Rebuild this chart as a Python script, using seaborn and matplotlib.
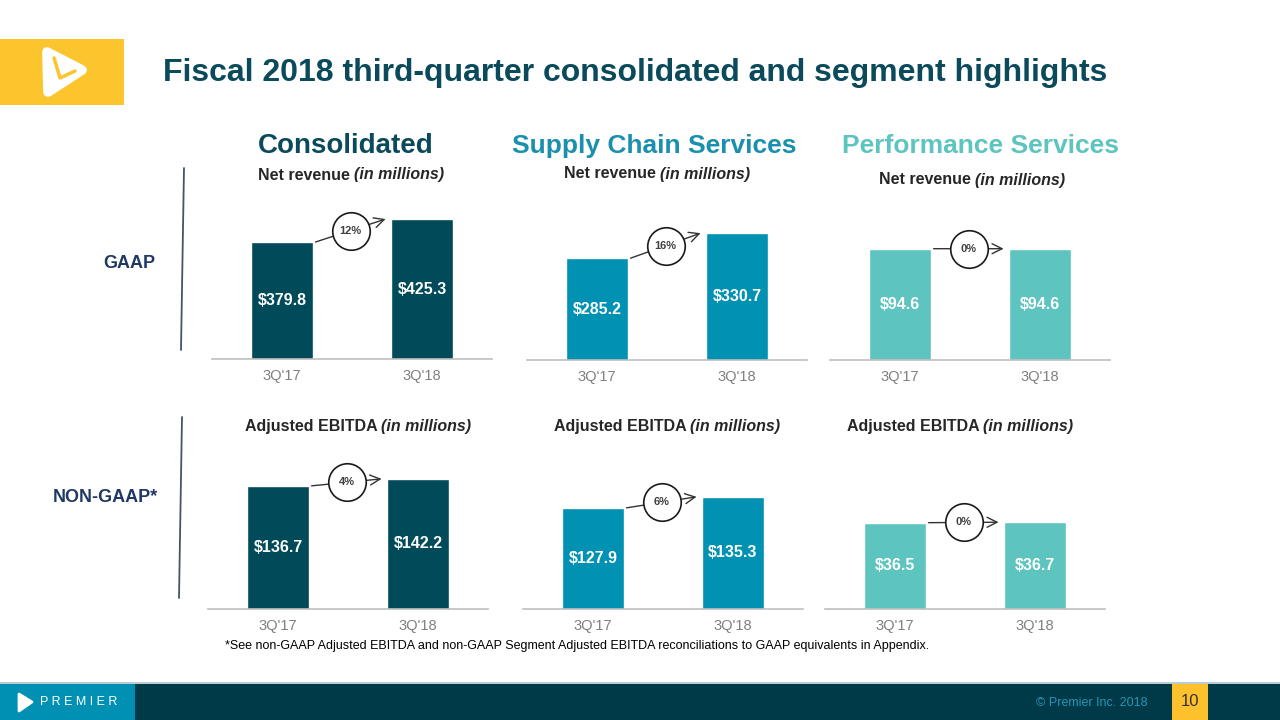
import matplotlib
matplotlib.use("Agg")
import matplotlib.pyplot as plt
from matplotlib.patches import Rectangle, Polygon
import numpy as np
import seaborn as sns

# ---- data ----
quarters = ["3Q'17", "3Q'18"]
segments = ["Consolidated", "Supply Chain Services", "Performance Services"]
net_revenue = [[379.8, 425.3], [285.2, 330.7], [94.6, 94.6]]
adj_ebitda = [[136.7, 142.2], [127.9, 135.3], [36.5, 36.7]]
revenue_growth = ["12%", "16%", "0%"]
ebitda_growth = ["4%", "6%", "0%"]

# ---- style ----
seg_colors = ["#004a59", "#0091b3", "#5ec4bf"]
head_colors = ["#0b4a5a", "#1a8fae", "#5ec4bf"]
navy = "#1f3864"
W, H = 1280, 720

sns.set_style("white")
plt.rcParams['font.family'] = ['Liberation Sans', 'DejaVu Sans']

fig = plt.figure(figsize=(12.8, 7.2), dpi=100)
fig.patch.set_facecolor("white")


def fx(x):
    return x / W


def fy(y):
    return 1 - y / H


def rect(x0, y0, x1, y1, color):
    fig.add_artist(Rectangle((fx(x0), fy(y1)), fx(x1) - fx(x0), fy(y0) - fy(y1),
                             transform=fig.transFigure, facecolor=color, edgecolor="none"))


renderer = fig.canvas.get_renderer()


def mixed_label(xc, y, bold_part, ital_part, size=11.5):
    t1 = fig.text(0, fy(y), bold_part, fontsize=size, fontweight="bold", va="center", ha="left")
    t2 = fig.text(0, fy(y), ital_part, fontsize=size, fontweight="bold", style="italic",
                  va="center", ha="left")
    w1 = t1.get_window_extent(renderer).width
    w2 = t2.get_window_extent(renderer).width
    x0 = xc - (w1 + w2) / 2
    t1.set_x(fx(x0))
    t2.set_x(fx(x0 + w1))


# panel geometry: middle tick x, baseline y, top y, y-limits
panel_mid = [[352, 667, 970], [348, 663, 965]]
panel_base = [[359, 360, 360], [609, 609, 609]]
panel_top = [200, 460]
panel_ylim = [[(148, 463), (100, 391), (0, 136)], [(40, 157), (60, 160), (0, 63)]]
bar_w = 0.44

rows = [net_revenue, adj_ebitda]
growth = [revenue_growth, ebitda_growth]

for r in range(2):
    for c in range(3):
        mid = panel_mid[r][c]
        base = panel_base[r][c]
        ax = fig.add_axes([fx(mid - 140), fy(base), 280 / W, (base - panel_top[r]) / H])
        vals = rows[r][c]
        sns.barplot(x=quarters, y=vals, color=seg_colors[c], width=bar_w,
                    saturation=1, ax=ax)
        lo, hi = panel_ylim[r][c]
        ax.set_ylim(lo, hi)
        ax.set_xlim(-0.5, 1.5)
        for s in ["top", "left", "right"]:
            ax.spines[s].set_visible(False)
        ax.spines["bottom"].set_color("#bfbfbf")
        ax.spines["bottom"].set_linewidth(1.2)
        ax.set_yticks([])
        ax.set_xlabel("")
        ax.set_ylabel("")
        ax.tick_params(axis="x", which="major", length=0, pad=7,
                       labelsize=10.5, labelcolor="#7f7f7f")
        ax.set_xticks([-0.5, 0.5, 1.5], minor=True)
        ax.tick_params(axis="x", which="minor", length=4, color="#bfbfbf", width=1)
        ax.patch.set_alpha(0)

        for i, v in enumerate(vals):
            ax.text(i, (lo + v) / 2, f"${v:.1f}", ha="center", va="center",
                    color="white", fontsize=11.5, fontweight="bold")

        # growth arrow with circled percentage
        x0, x1 = bar_w / 2 + 0.02, 1 - bar_w / 2 - 0.04
        y0, y1 = vals[0], vals[1]
        ax.annotate("", xy=(x1, y1), xytext=(x0, y0),
                    arrowprops=dict(arrowstyle="->", color="#333333", lw=1,
                                    shrinkA=0, shrinkB=0, mutation_scale=18),
                    annotation_clip=False)
        ax.plot([(x0 + x1) / 2], [(y0 + y1) / 2], marker="o", ms=27, mfc="white",
                mec="#1a1a1a", mew=1.2, clip_on=False, zorder=5)
        ax.text((x0 + x1) / 2, (y0 + y1) / 2, growth[r][c], ha="center", va="center",
                fontsize=8, fontweight="bold", color="#404040", zorder=6)

# ---- header ----
fig.text(fx(163), fy(73), "Fiscal 2018 third-quarter consolidated and segment highlights",
         fontsize=23, fontweight="bold", color="#0b4a5a", va="center", ha="left")

head_x = [346, 654, 980]
head_size = [20, 19, 19]
for c in range(3):
    fig.text(fx(head_x[c]), fy(146), segments[c], fontsize=head_size[c], fontweight="bold",
             color=head_colors[c], ha="center", va="center")

for xc, y in zip([351, 657, 972], [175, 174, 180]):
    mixed_label(xc, y, "Net revenue ", "(in millions)")
for xc in [358, 667, 960]:
    mixed_label(xc, 427, "Adjusted EBITDA ", "(in millions)")

fig.text(fx(129), fy(264), "GAAP", fontsize=13, fontweight="bold", color=navy,
         ha="center", va="center")
fig.text(fx(105), fy(497), "NON-GAAP*", fontsize=13, fontweight="bold", color=navy,
         ha="center", va="center")
for (xa, ya, xb, yb) in [(184, 168, 181, 350), (182, 417, 179, 598)]:
    fig.add_artist(plt.Line2D([fx(xa), fx(xb)], [fy(ya), fy(yb)], transform=fig.transFigure,
                              color="#44546a", lw=1.3))

fig.text(fx(225), fy(646),
         "*See non-GAAP Adjusted EBITDA and non-GAAP Segment Adjusted EBITDA reconciliations "
         "to GAAP equivalents in Appendix.", fontsize=9, color="black", ha="left", va="center")

# ---- top-left logo ----
rect(0, 39, 124, 105, "#fcc42d")
tri = [(47, 52), (82, 70), (48, 92)]
fig.add_artist(Polygon([(fx(x), fy(y)) for x, y in tri], closed=True, transform=fig.transFigure,
                       facecolor="white", edgecolor="white", lw=7, joinstyle="round"))
fig.add_artist(plt.Line2D([fx(54), fx(60), fx(75)], [fy(58), fy(78), fy(71)],
                          transform=fig.transFigure, color="#fcc42d", lw=2.5,
                          solid_capstyle="round"))

# ---- footer ----
rect(0, 682, 1280, 684, "#b9cdd4")
rect(0, 684, 1280, 720, "#003a49")
rect(0, 684, 135, 720, "#0090b4")
rect(1172, 684, 1208, 720, "#fdc12e")
fig.add_artist(Polygon([(fx(x), fy(y)) for x, y in [(19, 694), (32, 702), (19, 711)]],
                       closed=True, transform=fig.transFigure, facecolor="white",
                       edgecolor="white", lw=2, joinstyle="round"))
fig.text(fx(40), fy(702), "P R E M I E R", fontsize=9, color="white", ha="left", va="center")
fig.text(fx(1147), fy(703), "© Premier Inc. 2018", fontsize=9, color="#2a93b5",
         ha="right", va="center")
fig.text(fx(1190), fy(702), "10", fontsize=12, color="#333333", ha="center", va="center")

fig.savefig("out.png", dpi=100)
